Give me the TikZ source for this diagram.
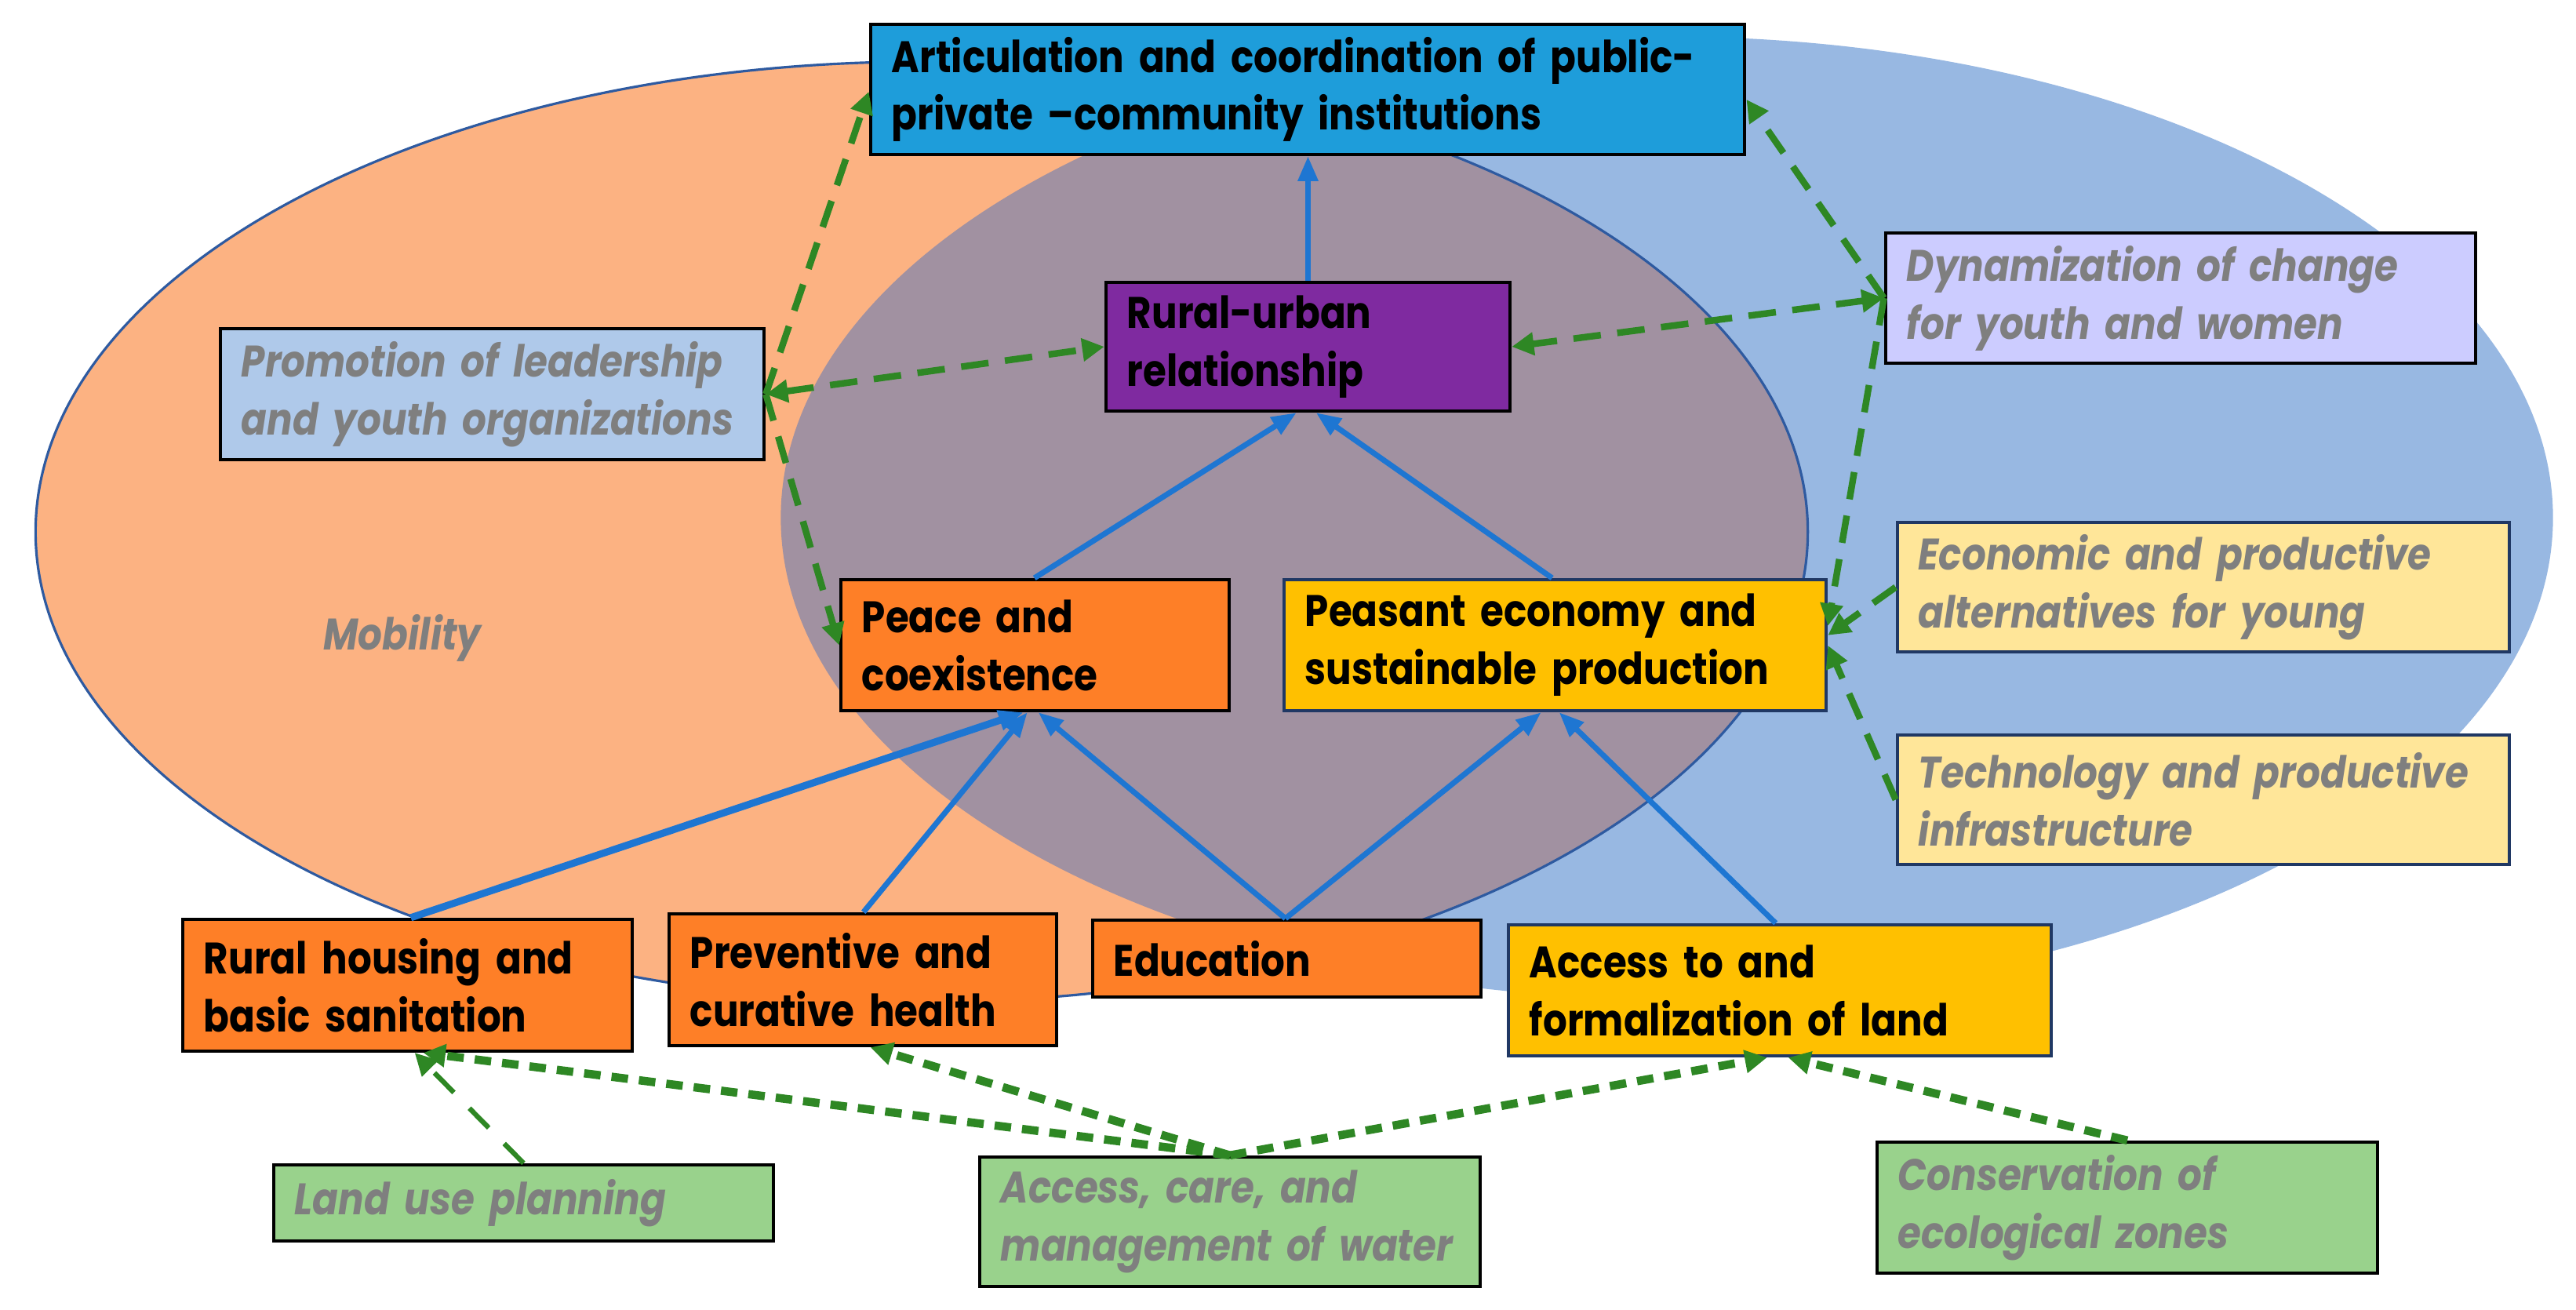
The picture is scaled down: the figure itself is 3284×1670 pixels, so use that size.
\documentclass[tikz,border=0pt]{standalone}
\usepackage{fontspec}
\setmainfont{Poppins}[FakeStretch=0.86]
\usetikzlibrary{arrows.meta,calc}
\definecolor{ellor}{RGB}{252,178,130}
\definecolor{ellbl}{RGB}{152,184,226}
\definecolor{ellmid}{RGB}{161,145,161}
\definecolor{elline}{RGB}{46,90,160}
\definecolor{artblue}{RGB}{30,157,218}
\definecolor{rupurple}{RGB}{127,42,160}
\definecolor{promblue}{RGB}{175,201,234}
\definecolor{dynlav}{RGB}{204,204,255}
\definecolor{lightyel}{RGB}{255,230,153}
\definecolor{boxor}{RGB}{254,127,39}
\definecolor{boxyel}{RGB}{255,192,0}
\definecolor{boxgreen}{RGB}{153,210,140}
\definecolor{txtgray}{RGB}{127,127,127}
\definecolor{arrblue}{RGB}{30,118,210}
\definecolor{arrgreen}{RGB}{46,135,36}
\definecolor{navy}{RGB}{32,56,100}
\begin{document}
\begin{tikzpicture}[x=0.01cm,y=-0.01cm,
  box/.style={draw=black, line width=1.2pt, inner xsep=0.27cm, inner ysep=0pt, align=left,
    font=\fontsize{16}{21}\selectfont\bfseries, text=black},
  gbox/.style={box, font=\fontsize{16}{21}\selectfont\bfseries\itshape, text=txtgray},
  ybox/.style={box, draw=navy},
  blarrow/.style={draw=arrblue, line width=2pt, -{Triangle[length=9pt,width=7pt]}},
  grarrow/.style={draw=arrgreen, line width=2.4pt, dash pattern=on 10pt off 6pt, -{Triangle[length=8pt,width=8pt]}},
  grarrowb/.style={draw=arrgreen, line width=2.4pt, dash pattern=on 10pt off 6pt, {Triangle[length=8pt,width=8pt]}-{Triangle[length=8pt,width=8pt]}},
  grsmall/.style={draw=arrgreen, line width=3pt, dash pattern=on 6pt off 4pt, -{Triangle[length=8pt,width=8pt]}},
  grthin/.style={draw=arrgreen, line width=1.8pt, dash pattern=on 10pt off 8pt, -{Triangle[length=8pt,width=8pt]}}
]
\useasboundingbox (0,0) rectangle (3284,1670);
\fill[white] (0,0) rectangle (3284,1670);
% ellipses
\fill[ellbl] (2125,660) ellipse [x radius=11.29cm, y radius=6.13cm];
\fill[ellor] (1175,678) ellipse [x radius=11.29cm, y radius=5.99cm];
\begin{scope}
  \clip (1175,678) ellipse [x radius=11.29cm, y radius=5.99cm];
  \fill[ellmid] (2125,660) ellipse [x radius=11.29cm, y radius=6.13cm];
\end{scope}
\draw[elline, line width=0.9pt] (1175,678) ellipse [x radius=11.29cm, y radius=5.99cm];
\node[font=\fontsize{16}{21}\selectfont\bfseries\itshape, text=txtgray] (mob) at (513,813) {Mobility};
% boxes
\node[box, fill=artblue, minimum width=11.14cm, minimum height=1.66cm, text width=10.60cm] (art) at (1667,114) {Articulation and coordination of public-\\private --community institutions};
\node[box, fill=rupurple, minimum width=5.15cm, minimum height=1.64cm, text width=4.61cm] (ru) at (1667.5,442) {Rural-urban\\relationship};
\node[gbox, fill=promblue, minimum width=6.93cm, minimum height=1.67cm, text width=6.39cm] (prom) at (627.5,502.5) {Promotion of leadership\\and youth organizations};
\node[gbox, fill=dynlav, minimum width=7.52cm, minimum height=1.66cm, text width=6.98cm] (dyn) at (2780,380) {Dynamization of change\\for youth and women};
\node[gbox, draw=navy, fill=lightyel, minimum width=7.80cm, minimum height=1.65cm, text width=7.26cm] (eco) at (2809,748.5) {Economic and productive\\alternatives for young};
\node[gbox, draw=navy, fill=lightyel, minimum width=7.80cm, minimum height=1.65cm, text width=7.26cm] (tech) at (2809,1019.5) {Technology and productive\\infrastructure};
\node[box, fill=boxor, minimum width=4.95cm, minimum height=1.67cm, text width=4.41cm] (peace) at (1319.5,822.5) {Peace and\\coexistence};
\node[ybox, fill=boxyel, minimum width=6.91cm, minimum height=1.67cm, text width=6.37cm] (peas) at (1982.5,822.5) {Peasant economy and\\sustainable production};
\node[box, fill=boxor, minimum width=5.73cm, minimum height=1.68cm, text width=5.19cm] (house) at (519.5,1256) {Rural housing and\\basic sanitation};
\node[box, fill=boxor, minimum width=4.94cm, minimum height=1.68cm, text width=4.40cm] (prev) at (1100,1249) {Preventive and\\curative health};
\node[box, fill=boxor, minimum width=4.95cm, minimum height=0.98cm, text width=4.41cm] (edu) at (1640.5,1222) {Education};
\node[ybox, fill=boxyel, minimum width=6.92cm, minimum height=1.67cm, text width=6.38cm] (land) at (2269,1262.5) {Access to and\\formalization of land};
\node[gbox, fill=boxgreen, minimum width=6.37cm, minimum height=0.97cm, text width=5.83cm] (lup) at (667.5,1533.5) {Land use planning};
\node[gbox, fill=boxgreen, minimum width=6.38cm, minimum height=1.65cm, text width=5.84cm] (water) at (1568,1557.5) {Access, care, and\\management of water};
\node[gbox, fill=boxgreen, minimum width=6.38cm, minimum height=1.67cm, text width=5.84cm] (cons) at (2712,1539.5) {Conservation of\\ecological zones};
% blue arrows
\draw[blarrow] (ru.north) -- (ru.north |- art.south);
\draw[blarrow] ($(peace.north west)+(249,0)$) -- ($(ru.south west)+(245,0)$);
\draw[blarrow] ($(peas.north west)+(344,0)$) -- ($(ru.south west)+(270,0)$);
\draw[blarrow, line width=2.6pt] ($(house.north west)+(293,0)$) -- ($(peace.south west)+(235,0)$);
\draw[blarrow] ($(prev.north west)+(250,0)$) -- ($(peace.south west)+(240,0)$);
\draw[blarrow] ($(edu.north west)+(248,0)$) -- ($(peace.south west)+(254,0)$);
\draw[blarrow] ($(edu.north west)+(248,0)$) -- ($(peas.south west)+(330,0)$);
\draw[blarrow] ($(land.north west)+(343,0)$) -- ($(peas.south west)+(353,0)$);
% green dashed arrows (top)
\draw[grarrow] (prom.east) -- ($(art.north west)+(0,88)$);
\draw[grarrowb] (prom.east) -- (ru.west);
\draw[grarrow] (prom.east) -- (peace.west);
\draw[grarrow] (dyn.west) -- ($(art.north east)+(0,98)$);
\draw[grarrowb] (dyn.west) -- (ru.east);
\draw[grarrow] (dyn.west) -- ($(peas.north east)+(0,61)$);
\draw[grarrow] (eco.west) -- ($(peas.north east)+(0,73)$);
\draw[grarrow] (tech.west) -- ($(peas.north east)+(0,86)$);
% green dashed arrows (bottom)
\draw[grthin] (lup.north) -- ($(house.south west)+(298,0)$);
\draw[grsmall] (water.north) -- ($(house.south west)+(309,0)$);
\draw[grsmall] (water.north) -- ($(prev.south west)+(259,0)$);
\draw[grsmall] (water.north) -- ($(land.south west)+(332,0)$);
\draw[grsmall] (cons.north) -- ($(land.south west)+(359,0)$);
\end{tikzpicture}
\end{document}
